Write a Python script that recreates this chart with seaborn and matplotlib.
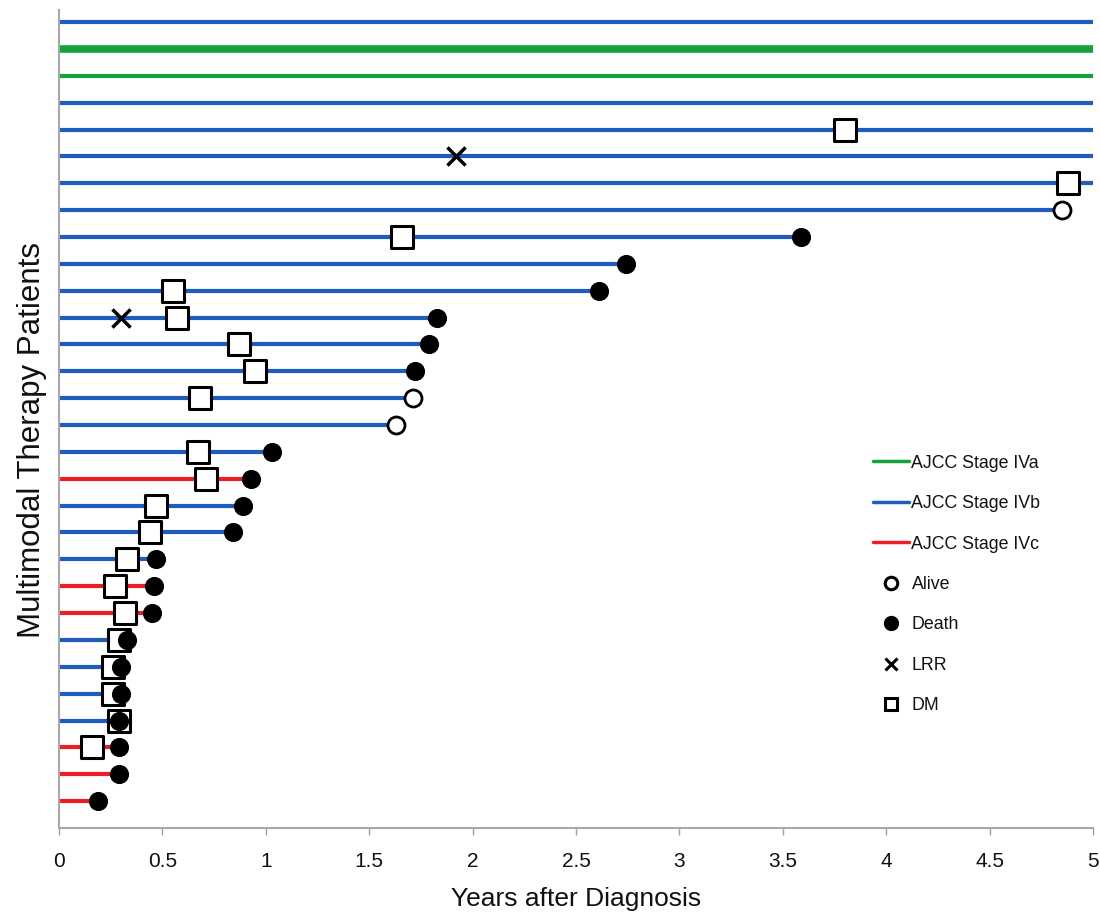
import matplotlib
matplotlib.use("Agg")
import matplotlib.pyplot as plt
from matplotlib.lines import Line2D
import seaborn as sns
import pandas as pd
import numpy as np

# ---- data (rows listed from bottom patient 1 to top patient 30) ----
patients = list(range(1, 31))
stage = ["IVc", "IVc", "IVc", "IVb", "IVb", "IVb", "IVb", "IVc", "IVc", "IVb",
         "IVb", "IVb", "IVc", "IVb", "IVb", "IVb", "IVb", "IVb", "IVb", "IVb",
         "IVb", "IVb", "IVb", "IVb", "IVb", "IVb", "IVb", "IVa", "IVa", "IVb"]
follow_up = [0.19, 0.29, 0.29, 0.29, 0.30, 0.30, 0.33, 0.45, 0.46, 0.47,
             0.84, 0.89, 0.93, 1.03, 1.63, 1.71, 1.72, 1.79, 1.83, 2.61,
             2.74, 3.59, 4.85, 5.0, 5.0, 5.0, 5.0, 5.0, 5.0, 5.0]

death_patient = [1, 2, 3, 4, 5, 6, 7, 8, 9, 10, 11, 12, 13, 14, 17, 18, 19, 20, 21, 22]
death_time = [0.19, 0.29, 0.29, 0.29, 0.30, 0.30, 0.33, 0.45, 0.46, 0.47,
              0.84, 0.89, 0.93, 1.03, 1.72, 1.79, 1.83, 2.61, 2.74, 3.59]

alive_patient = [15, 16, 23]
alive_time = [1.63, 1.71, 4.85]

lrr_patient = [19, 25]
lrr_time = [0.30, 1.92]

dm_patient = [3, 4, 5, 6, 7, 8, 9, 10, 11, 12, 13, 14, 16, 17, 18, 19, 20, 22, 24, 26]
dm_time = [0.16, 0.29, 0.26, 0.26, 0.29, 0.32, 0.27, 0.33, 0.44, 0.47,
           0.71, 0.67, 0.68, 0.95, 0.87, 0.57, 0.55, 1.66, 4.88, 3.80]

x_ticks = [0, 0.5, 1, 1.5, 2, 2.5, 3, 3.5, 4, 4.5, 5]
x_tick_labels = ["0", "0.5", "1", "1.5", "2", "2.5", "3", "3.5", "4", "4.5", "5"]

stage_colors = {"IVa": "#14A33A", "IVb": "#1E5DBE", "IVc": "#EE1C24"}
stage_labels = {"IVa": "AJCC Stage IVa", "IVb": "AJCC Stage IVb", "IVc": "AJCC Stage IVc"}

# ---- figure ----
sns.set_theme(style="white")
plt.rcParams["font.family"] = ["Liberation Sans", "DejaVu Sans"]
TXT = "#111111"

fig = plt.figure(figsize=(11, 9.17), dpi=100)
ax = fig.add_axes([59 / 1100, 1 - 828 / 917, (1093 - 59) / 1100, (828 - 10) / 917])

swim = pd.DataFrame({"patient": patients, "stage": stage, "end": follow_up})
for _, r in swim.iterrows():
    lw = 5.5 if r["patient"] == 29 else 3.0
    ax.hlines(r["patient"], 0, r["end"], color=stage_colors[r["stage"]], lw=lw, zorder=1)

dm = pd.DataFrame({"t": dm_time, "p": dm_patient})
sns.scatterplot(data=dm, x="t", y="p", marker="s", s=230, facecolor="white",
                edgecolor="black", linewidth=2.2, ax=ax, zorder=3, legend=False)
dth = pd.DataFrame({"t": death_time, "p": death_patient})
sns.scatterplot(data=dth, x="t", y="p", marker="o", s=190, color="black",
                edgecolor="black", linewidth=0, ax=ax, zorder=4, legend=False)
alv = pd.DataFrame({"t": alive_time, "p": alive_patient})
sns.scatterplot(data=alv, x="t", y="p", marker="o", s=150, facecolor="white",
                edgecolor="black", linewidth=2, ax=ax, zorder=4, legend=False)
lrr = pd.DataFrame({"t": lrr_time, "p": lrr_patient})
ax.scatter(lrr["t"], lrr["p"], marker="x", s=170, color="black", linewidths=2.5, zorder=4)

ax.set_xlim(0, 5)
ax.set_ylim(0, 30.45)
ax.set_xticks(x_ticks)
ax.set_xticklabels(x_tick_labels, fontsize=15, color=TXT)
ax.set_yticks([])
ax.tick_params(axis="x", bottom=True, length=5, width=1, color="#A0A0A0", pad=12)
for side in ["top", "right"]:
    ax.spines[side].set_visible(False)
for side in ["left", "bottom"]:
    ax.spines[side].set_color("#A8A8A8")
    ax.spines[side].set_linewidth(1.5)
ax.set_xlabel("Years after Diagnosis", fontsize=19, color=TXT, labelpad=12)
ax.set_ylabel("Multimodal Therapy Patients", fontsize=22.5, color=TXT)
ax.yaxis.set_label_coords(-0.0115, 0.474)

handles = [
    Line2D([], [], color=stage_colors["IVa"], lw=2.5),
    Line2D([], [], color=stage_colors["IVb"], lw=2.5),
    Line2D([], [], color=stage_colors["IVc"], lw=2.5),
    Line2D([], [], ls="none", marker="o", ms=9, mfc="white", mec="black", mew=2.2),
    Line2D([], [], ls="none", marker="o", ms=10, color="black"),
    Line2D([], [], ls="none", marker="x", ms=9, color="black", mew=2.2),
    Line2D([], [], ls="none", marker="s", ms=9, mfc="white", mec="black", mew=2.2),
]
labels = [stage_labels["IVa"], stage_labels["IVb"], stage_labels["IVc"],
          "Alive", "Death", "LRR", "DM"]
leg = ax.legend(handles, labels, loc="upper left", bbox_to_anchor=(0.772, 0.476),
                frameon=False, handlelength=2.0, handletextpad=0.15,
                labelspacing=1.32, prop={"size": 12.8})
for t in leg.get_texts():
    t.set_color(TXT)

fig.savefig("out.png", dpi=100)
